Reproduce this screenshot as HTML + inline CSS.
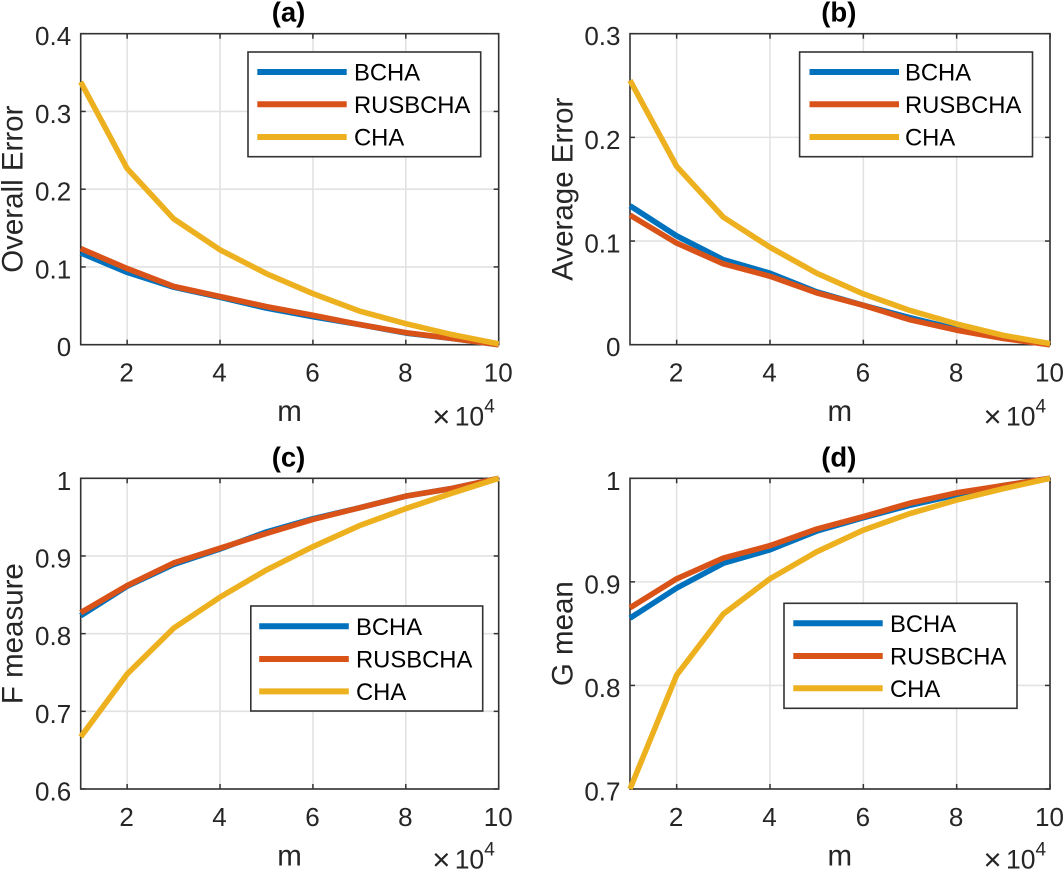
<!DOCTYPE html>
<html lang="en">
<head>
<meta charset="utf-8">
<title>Four panel line charts</title>
<style>
html,body{margin:0;padding:0;background:#fff;}
svg{display:block;font-family:"Liberation Sans",Arial,sans-serif;}
text{fill:#262626;}
</style>
</head>
<body>
<svg id="figure" width="1063" height="870" viewBox="0 0 1063 870" xmlns="http://www.w3.org/2000/svg"></svg>
<script>
const xValues = [1,2,3,4,5,6,7,8,9,10];
const xTicks = [2,4,6,8,10];
const seriesNames = ["BCHA","RUSBCHA","CHA"];
const seriesColors = ["#0072bd","#d95319","#edb120"];

const aBCHA = [0.118,0.093,0.074,0.061,0.047,0.036,0.026,0.015,0.008,0];
const aRUSBCHA = [0.1236,0.098,0.075,0.062,0.049,0.0378,0.026,0.0155,0.008,0];
const aCHA = [0.338,0.2266,0.162,0.122,0.0914,0.0657,0.0433,0.027,0.0129,0.001];
const aYTicks = [0,0.1,0.2,0.3,0.4];

const bBCHA = [0.134,0.105,0.082,0.069,0.051,0.038,0.026,0.015,0.007,0];
const bRUSBCHA = [0.125,0.098,0.078,0.066,0.050,0.038,0.024,0.014,0.006,0];
const bCHA = [0.255,0.172,0.123,0.094,0.069,0.049,0.033,0.020,0.009,0.001];
const bYTicks = [0,0.1,0.2,0.3];

const cBCHA = [0.823,0.861,0.889,0.909,0.931,0.948,0.962,0.977,0.987,1];
const cRUSBCHA = [0.827,0.862,0.891,0.91,0.929,0.947,0.962,0.977,0.987,1];
const cCHA = [0.667,0.748,0.807,0.847,0.882,0.912,0.939,0.961,0.981,1];
const cYTicks = [0.6,0.7,0.8,0.9,1];

const dBCHA = [0.865,0.894,0.918,0.931,0.949,0.962,0.974,0.984,0.993,1];
const dRUSBCHA = [0.875,0.903,0.923,0.935,0.951,0.963,0.976,0.986,0.993,1];
const dCHA = [0.7,0.81,0.869,0.903,0.929,0.95,0.966,0.979,0.99,1];
const dYTicks = [0.7,0.8,0.9,1];

const panels = [
  {id:"a",title:"(a)",yLabel:"Overall Error",series:[aBCHA,aRUSBCHA,aCHA],yTicks:aYTicks,
   box:{l:80.7,r:498.7,t:33.7,b:344.7},yLabelX:22.5,mY:421,expY:425.5},
  {id:"b",title:"(b)",yLabel:"Average Error",series:[bBCHA,bRUSBCHA,bCHA],yTicks:bYTicks,
   box:{l:630,r:1050,t:33.7,b:344.7},yLabelX:572.5,mY:421,expY:425.5},
  {id:"c",title:"(c)",yLabel:"F measure",series:[cBCHA,cRUSBCHA,cCHA],yTicks:cYTicks,
   box:{l:80.7,r:498.7,t:478.3,b:789},yLabelX:22.5,mY:865.5,expY:868.5},
  {id:"d",title:"(d)",yLabel:"G mean",series:[dBCHA,dRUSBCHA,dCHA],yTicks:dYTicks,
   box:{l:630,r:1050,t:478.3,b:789},yLabelX:572.5,mY:865.5,expY:868.5}
];

const legendBoxes = {
  a:{l:248,r:480.7,t:52,b:156.7,x1:257.3,x2:346.7,tx:354,ys:[72,104.3,137]},
  b:{l:799.6,r:1032.5,t:52,b:156.7,x1:809.5,x2:899,tx:905,ys:[72,104.3,137]},
  c:{l:250.8,r:482.7,t:606,b:711,x1:259.2,x2:348.8,tx:356,ys:[626.2,659,691.4]},
  d:{l:784,r:1017,t:603.3,b:708.3,x1:793.3,x2:882.7,tx:890,ys:[623.3,656,688.3]}
};

const NS = "http://www.w3.org/2000/svg";
const figure = document.getElementById("figure");

function make(parent, tag, attrs, content) {
  const el = document.createElementNS(NS, tag);
  for (const k in attrs) el.setAttribute(k, attrs[k]);
  if (content !== undefined) el.textContent = content;
  parent.appendChild(el);
  return el;
}

panels.forEach(function (p) {
  const b = p.box;
  const xMin = xValues[0], xMax = xValues[xValues.length - 1];
  const yMin = p.yTicks[0], yMax = p.yTicks[p.yTicks.length - 1];
  const xScale = function (v) { return b.l + (v - xMin) / (xMax - xMin) * (b.r - b.l); };
  const yScale = function (v) { return b.b - (v - yMin) / (yMax - yMin) * (b.b - b.t); };

  const g = make(figure, "g", {});
  
  

  make(g, "rect", {x:b.l, y:b.t, width:b.r-b.l, height:b.b-b.t, fill:"#fff"});

  // Grid
  xTicks.forEach(function (t) {
    const x = xScale(t);
    const line = make(g, "line", {x1:x, x2:x, y1:b.t, y2:b.b, stroke:"#e2e2e2", "stroke-width":1.6});
    
    
  });
  p.yTicks.forEach(function (t) {
    const y = yScale(t);
    const line = make(g, "line", {x1:b.l, x2:b.r, y1:y, y2:y, stroke:"#e2e2e2", "stroke-width":1.6});
    
    
  });

  // Axis box and ticks
  const frame = make(g, "rect", {x:b.l, y:b.t, width:b.r-b.l, height:b.b-b.t, fill:"none", stroke:"#333", "stroke-width":1.6});
  
  

  xTicks.forEach(function (t) {
    const x = xScale(t);
    const tickB = make(g, "line", {x1:x, x2:x, y1:b.b, y2:b.b-5, stroke:"#333", "stroke-width":1.5});
    
    
    const tickT = make(g, "line", {x1:x, x2:x, y1:b.t, y2:b.t+5, stroke:"#333", "stroke-width":1.5});
    
    
    const label = make(g, "text", {x:x-0.5, y:b.b+37, "text-anchor":"middle", "font-size":26}, String(t));
    
    
  });
  p.yTicks.forEach(function (t) {
    const y = yScale(t);
    const tickL = make(g, "line", {x1:b.l, x2:b.l+5, y1:y, y2:y, stroke:"#333", "stroke-width":1.5});
    
    
    const tickR = make(g, "line", {x1:b.r, x2:b.r-5, y1:y, y2:y, stroke:"#333", "stroke-width":1.5});
    
    
    const label = make(g, "text", {x:b.l-9.5, y:y+11.5, "text-anchor":"end", "font-size":26}, String(t));
    
    
  });

  // Series
  p.series.forEach(function (vals, i) {
    const d = vals.map(function (v, j) {
      return (j ? "L" : "M") + xScale(xValues[j]).toFixed(2) + " " + yScale(v).toFixed(2);
    }).join(" ");
    const path = make(g, "path", {d:d, fill:"none", stroke:seriesColors[i], "stroke-width":5.6, "stroke-linejoin":"round", "stroke-linecap":"butt"});
    
    
  });

  // Title and axis labels
  const cx = (b.l + b.r) / 2;
  const title = make(g, "text", {x:cx-1.2, y:b.t-12, "text-anchor":"middle", "font-size":27.5, "font-weight":"bold", style:"fill:#000"}, p.title);
  
  

  const xLabel = make(g, "text", {x:cx-0.2, y:p.mY, "text-anchor":"middle", "font-size":29.5}, "m");
  
  

  const cy = (b.t + b.b) / 2;
  const yLabel = make(g, "text", {x:p.yLabelX, y:cy, "text-anchor":"middle", "font-size":29.5, transform:"rotate(-90 " + p.yLabelX + " " + cy + ")"}, p.yLabel);
  
  

  // Exponent label
  const exp = make(g, "text", {"font-size":26.5});
  
  
  make(exp, "tspan", {x:b.r-66.5, y:p.expY+1.5, "font-size":31}, "\u00d7");
  make(exp, "tspan", {x:b.r-44, y:p.expY}, "10");
  make(exp, "tspan", {x:b.r-14.5, y:p.expY-13, "font-size":19}, "4");

  // Legend
  const lg = legendBoxes[p.id];
  const legend = make(g, "g", {});
  
  
  make(legend, "rect", {x:lg.l, y:lg.t, width:lg.r-lg.l, height:lg.b-lg.t, fill:"#fff", stroke:"#333", "stroke-width":1.6});
  seriesNames.forEach(function (name, i) {
    const entry = make(legend, "g", {});
    
    
    make(entry, "line", {x1:lg.x1, x2:lg.x2, y1:lg.ys[i], y2:lg.ys[i], stroke:seriesColors[i], "stroke-width":6});
    make(entry, "text", {x:lg.tx, y:lg.ys[i]+8.7, "font-size":23.8, style:"fill:#000"}, name);
  });
});
</script>
</body>
</html>
